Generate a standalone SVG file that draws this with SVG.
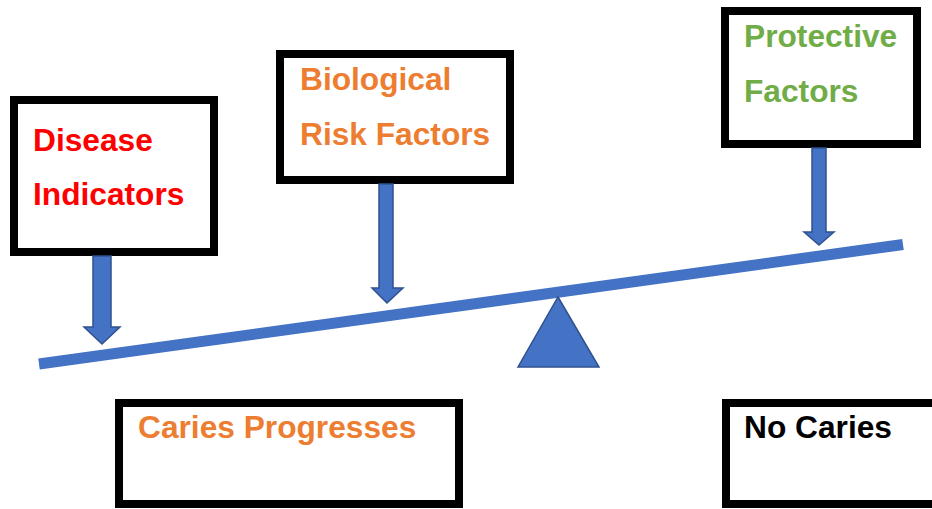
<svg xmlns="http://www.w3.org/2000/svg" width="932" height="509" viewBox="0 0 932 509">
<style>
.box{fill:#fff;stroke:#000;stroke-width:8}
.lbl{font-family:"Liberation Sans",Arial,sans-serif;font-weight:bold;font-size:31.7px}
.arrow{fill:#4472C4;stroke:#2F528F;stroke-width:1.5}
</style>
<rect width="932" height="509" fill="#fff"/>
<g id="disease-indicators">
<rect class="box" x="14" y="100" width="200" height="152"/>
<text class="lbl" fill="#FF0000" x="33" y="151">Disease</text>
<text class="lbl" fill="#FF0000" x="33" y="205">Indicators</text>
</g>
<g id="biological-risk-factors">
<rect class="box" x="280" y="54" width="230" height="126"/>
<text class="lbl" fill="#ED7D31" x="300" y="90">Biological</text>
<text class="lbl" fill="#ED7D31" x="300" y="145">Risk Factors</text>
</g>
<g id="protective-factors">
<rect class="box" x="725" y="11" width="192" height="133"/>
<text class="lbl" fill="#70AD47" x="744" y="47">Protective</text>
<text class="lbl" fill="#70AD47" x="744" y="102">Factors</text>
</g>
<g id="caries-progresses">
<rect class="box" x="119" y="403" width="340" height="101"/>
<text class="lbl" fill="#ED7D31" x="138" y="438">Caries Progresses</text>
</g>
<g id="no-caries">
<rect class="box" x="726" y="403" width="220" height="101"/>
<text class="lbl" fill="#000" x="744" y="438">No Caries</text>
</g>
<g id="seesaw">
<line x1="39" y1="364" x2="903" y2="244.5" stroke="#4472C4" stroke-width="11"/>
<polygon class="arrow" points="558,297 599,367 518,367"/>
</g>
<g id="connectors">
<polygon class="arrow" points="93,256 111,256 111,327 120,327 102,344 84,327 93,327"/>
<polygon class="arrow" points="379,184 393,184 393,288 403,288 387,303 372,288 379,288"/>
<polygon class="arrow" points="812,148 826,148 826,232 834,232 819,245 804,232 812,232"/>
</g>
</svg>
